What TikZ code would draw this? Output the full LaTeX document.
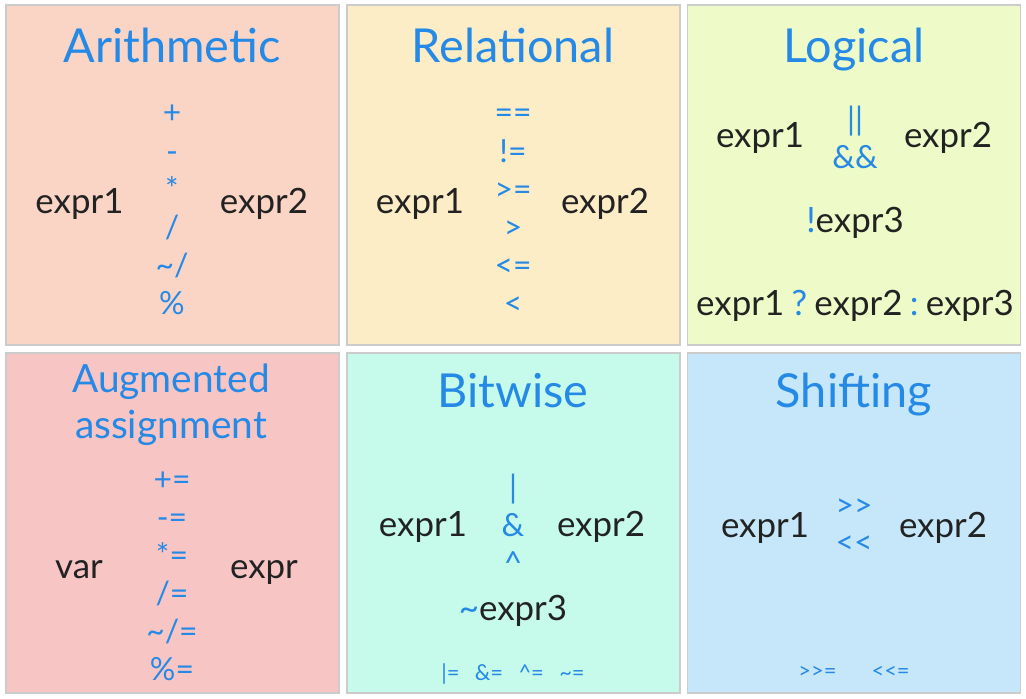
\documentclass[tikz,border=0pt]{standalone}
\usepackage{fontspec}
\setmainfont{Lato}
\newfontfamily\opfont{Lato}
\usepackage{tikz}
\usetikzlibrary{positioning}

\definecolor{opblue}{HTML}{2589E6}
\definecolor{termdark}{HTML}{222222}
\definecolor{arithfill}{HTML}{FAD5C6}
\definecolor{relfill}{HTML}{FCEDC6}
\definecolor{logfill}{HTML}{EEFAC7}
\definecolor{augfill}{HTML}{F8C5C5}
\definecolor{bitfill}{HTML}{C6FAEB}
\definecolor{shiftfill}{HTML}{C6E7FA}

\begin{document}
\begin{tikzpicture}[x=1bp, y=-1bp,
    panel/.style={rectangle, draw=black!20, line width=1.2bp, minimum width=333bp, minimum height=340bp, inner sep=0pt},
    title/.style={anchor=base, text=opblue, font=\fontsize{47}{50}\selectfont},
    term/.style={anchor=base, text=termdark, font=\fontsize{35}{40}\selectfont},
    op/.style={text=opblue, font=\opfont\fontsize{32}{34}\selectfont, inner sep=0pt, text height=23bp, text depth=7bp},
    small/.style={anchor=base, text=opblue, font=\opfont\fontsize{22}{24}\selectfont},
    node distance=38bp
  ]
    \useasboundingbox[fill=white] (0,0) rectangle (1026,699);

    \node[panel, fill=arithfill]  (arith)  at (172.5,175) {};
    \node[panel, fill=relfill]    (rel)    at (513.5,175) {};
    \node[panel, fill=logfill]    (logic)  at (854,175)   {};
    \node[panel, fill=augfill]    (aug)    at (172.5,523) {};
    \node[panel, fill=bitfill]    (bit)    at (513.5,523) {};
    \node[panel, fill=shiftfill]  (shift)  at (854,523)   {};

    % arithmetic
    \node[title]  (arithtitle)  at (172,63)   {Arithmetic};
    \node[op, anchor=base]  (plus)  at (172,124)  {+};
    \node[op]  (minus)  [below of=plus]   {-};
    \node[op]  (times)  [below of=minus]  {*};
    \node[op]  (divide) [below of=times]  {/};
    \node[op]  (idiv)   [below of=divide] {\textasciitilde/};
    \node[op]  (modulo) [below of=idiv]   {\%};
    \node[term]  (arithleft)   at (79.5,213)  {expr1};
    \node[term]  (arithright)  at (264,213)   {expr2};

    % relational
    \node[title]  (reltitle)  at (513,63)  {Relational};
    \node[op, anchor=base]  (eq)  at (513,124)  {==};
    \node[op]  (neq)  [below of=eq]   {!=};
    \node[op]  (geq)  [below of=neq]  {>=};
    \node[op]  (gt)   [below of=geq]  {>};
    \node[op]  (leq)  [below of=gt]   {<=};
    \node[op]  (lt)   [below of=leq]  {<};
    \node[term]  (relleft)   at (420,213)  {expr1};
    \node[term]  (relright)  at (605,213)  {expr2};

    % logical
    \node[title]  (logtitle)  at (854,63)  {Logical};
    \node[op, anchor=base]  (lor)  at (855,131)  {||};
    \node[op]  (land)  [below of=lor, node distance=37bp]  {\&\&};
    \node[term]  (logleft)   at (760,148)  {expr1};
    \node[term]  (logright)  at (948,148)  {expr2};
    \node[term]  (lognot)    at (855,232)  {\textcolor{opblue}{!}expr3};
    \node[term]  (logcond)   at (855,315)  {expr1\hspace{.21em}\textcolor{opblue}{?}\hspace{.21em}expr2\hspace{.21em}\textcolor{opblue}{:}\hspace{.21em}expr3};

    % augmented assignment
    \node[title, font=\fontsize{39}{42}\selectfont]  (augtitle)   at (171,392)  {Augmented};
    \node[title, font=\fontsize{39}{42}\selectfont]  (augtitleb)  at (171,438)  {assignment};
    \node[op, anchor=base]  (pluseq)  at (172,490)  {+=};
    \node[op]  (minuseq)  [below of=pluseq]   {-=};
    \node[op]  (timeseq)  [below of=minuseq]  {*=};
    \node[op]  (diveq)    [below of=timeseq]  {/=};
    \node[op]  (idiveq)   [below of=diveq]    {\textasciitilde/=};
    \node[op]  (modeq)    [below of=idiveq]   {\%=};
    \node[term]  (augleft)   at (79,578)   {var};
    \node[term]  (augright)  at (264,578)  {expr};

    % bitwise
    \node[title]  (bittitle)  at (513,407)  {Bitwise};
    \node[op, anchor=base]  (bor)  at (513,498)  {|};
    \node[op]  (band)  [below of=bor]   {\&};
    \node[op]  (bxor)  [below of=band]  {\textasciicircum};
    \node[term]  (bitleft)   at (423,536)  {expr1};
    \node[term]  (bitright)  at (601,536)  {expr2};
    \node[term]  (bitnot)    at (513,620)  {\textcolor{opblue}{\textasciitilde}expr3};
    \node[small]  (bitassign)  at (513,680)  {|=\hspace{.7em}\&=\hspace{.7em}\textasciicircum=\hspace{.7em}\textasciitilde=};

    % shifting
    \node[title]  (shifttitle)  at (854,407)  {Shifting};
    \node[op, anchor=base]  (shr)  at (854,516)  {>>};
    \node[op]  (shl)  [below of=shr, node distance=37bp]  {<<};
    \node[term]  (shiftleft)   at (765,537)  {expr1};
    \node[term]  (shiftright)  at (943,537)  {expr2};
    \node[small]  (shiftassign)  at (854,678)  {>>=\hspace{1.6em}<<=};
\end{tikzpicture}
\end{document}
